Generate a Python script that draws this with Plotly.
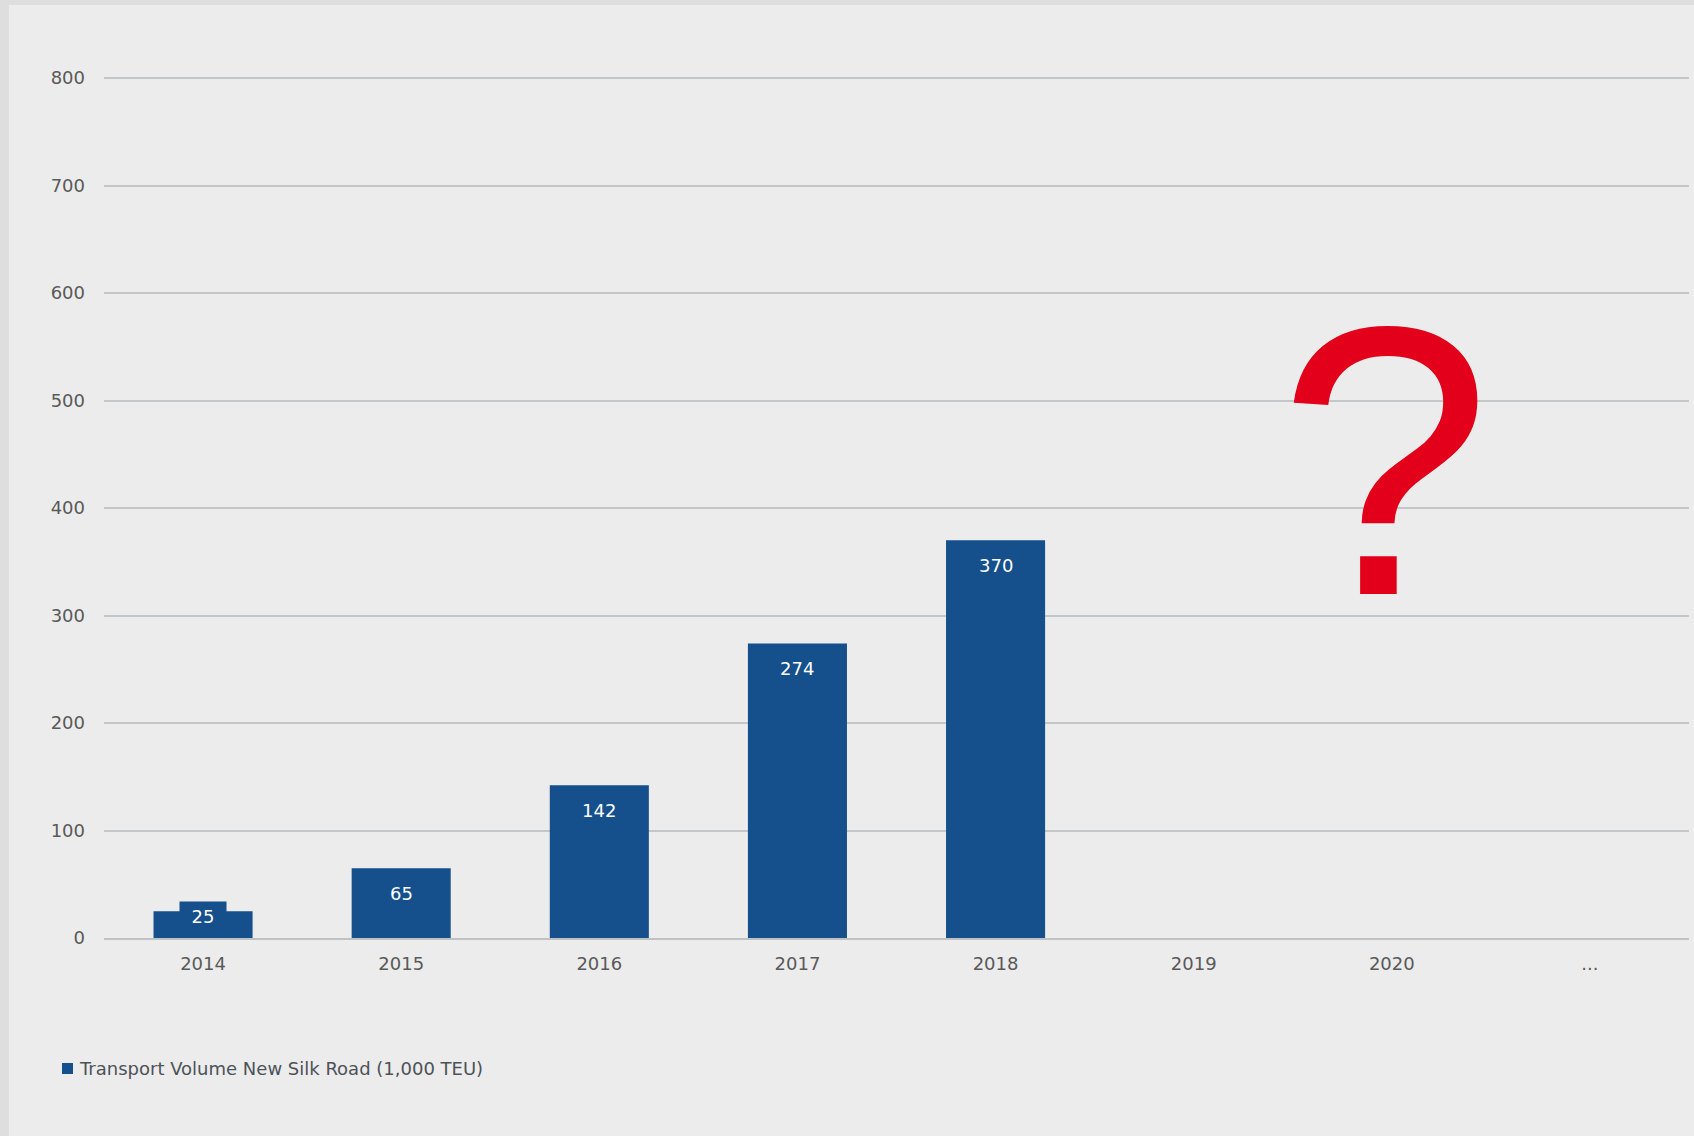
import plotly.graph_objects as go

categories = ["2014", "2015", "2016", "2017", "2018", "2019", "2020", "..."]
volumes = [25, 65, 142, 274, 370, None, None, None]
label_texts = ["25", "65", "142", "274", "370"]
series_name = "Transport Volume New Silk Road (1,000 TEU)"
y_ticks = [0, 100, 200, 300, 400, 500, 600, 700, 800]

BAR = "#154f8c"
RED = "#e2001a"
FONT = "DejaVu Sans"

fig = go.Figure()
fig.add_trace(go.Bar(x=categories, y=volumes, marker=dict(color=BAR, line=dict(width=0)),
                     showlegend=False, hoverinfo="x+y"))

W, H = 1694, 1136
ml, mr, mt, mb = 104, 5, 77, 198
pw, ph = W - ml - mr, H - mt - mb


def px_x(x):
    return (x - ml) / pw


def px_y(y):
    return (H - mb - y) / ph


annotations = []
for i, (val, txt) in enumerate(zip(volumes, label_texts)):
    if val is None:
        continue
    if val >= 40:
        annotations.append(dict(x=i, y=val, xref="x", yref="y", text=txt, showarrow=False,
                                yanchor="top", yshift=-13,
                                font=dict(family=FONT, size=18, color="white")))
    else:
        annotations.append(dict(x=i, y=0, xref="x", yref="y", text=txt, showarrow=False,
                                yanchor="bottom", yshift=6, bgcolor=BAR, borderpad=4,
                                width=38,
                                font=dict(family=FONT, size=18, color="white")))

# big red question mark over 2020
annotations.append(dict(x=categories.index("2020"), y=444, xref="x", yref="y", text="?",
                        showarrow=False, yanchor="middle", xshift=-7,
                        font=dict(family="Liberation Sans", size=384, color=RED)))

# legend as shape + annotation
annotations.append(dict(x=px_x(77), y=px_y(1068), xref="paper", yref="paper",
                        xanchor="left", yanchor="middle", text=series_name,
                        showarrow=False, font=dict(family=FONT, size=18, color="#4d5257")))

shapes = [
    dict(type="rect", xref="paper", yref="paper", x0=px_x(0), x1=px_x(9),
         y0=px_y(H), y1=px_y(0), fillcolor="#dedede", line=dict(width=0), layer="above"),
    dict(type="rect", xref="paper", yref="paper", x0=px_x(0), x1=px_x(W),
         y0=px_y(5), y1=px_y(0), fillcolor="#dedede", line=dict(width=0), layer="above"),
    dict(type="rect", xref="paper", yref="paper", x0=px_x(62), x1=px_x(73),
         y0=px_y(1074), y1=px_y(1063), fillcolor=BAR, line=dict(width=0), layer="above"),
]

fig.update_layout(
    width=W, height=H,
    margin=dict(l=ml, r=mr, t=mt, b=mb, pad=0),
    paper_bgcolor="#ececec", plot_bgcolor="#ececec",
    bargap=0.5,
    font=dict(family=FONT, size=18, color="#595959"),
    annotations=annotations, shapes=shapes,
    xaxis=dict(type="category", categoryorder="array", categoryarray=categories,
               range=[-0.5, len(categories) - 0.5],
               showgrid=False, showline=True, linecolor="#bfc2c5", linewidth=2,
               ticks="", ticklabelstandoff=8, zeroline=False,
               tickfont=dict(family=FONT, size=18, color="#595959")),
    yaxis=dict(range=[0, 801], tickvals=y_ticks, showgrid=True, gridcolor="#c4c7ca", gridwidth=2,
               zeroline=False, showline=False, ticks="", ticklabelstandoff=18,
               tickfont=dict(family=FONT, size=18, color="#595959")),
)

fig.write_html("out.html", config={"displayModeBar": False},
               post_script="document.body.style.margin='0';document.body.style.background='#dedede';")
